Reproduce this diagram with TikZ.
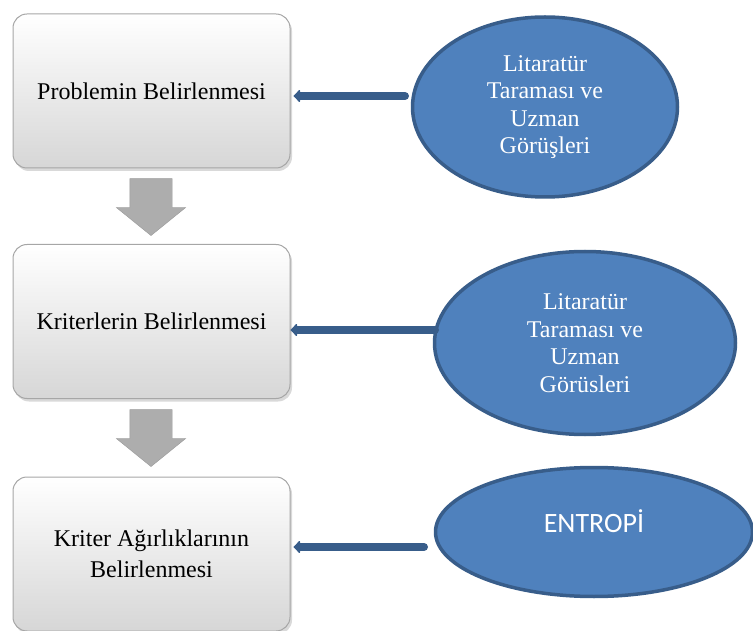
\documentclass[tikz,border=0pt]{standalone}
\usepackage{fontspec}
\setmainfont{Liberation Serif}
\newfontfamily\calibri{Carlito}
\usetikzlibrary{calc,shadows,shapes,arrows.meta}
\usetikzlibrary{positioning}

\definecolor{ellfill}{HTML}{4F81BD}
\definecolor{ellline}{HTML}{385D8A}

\begin{document}
\begin{tikzpicture}[x=1pt,y=-1pt]
    \tikzstyle{etape}=[rectangle,rounded corners=14pt,minimum width=277pt,minimum height=154pt,
        top color=white,bottom color=black!16,draw=black!35,line width=1pt,align=center,
        font=\fontsize{24}{31}\selectfont,
        drop shadow={opacity=0.3,shadow xshift=2pt,shadow yshift=-3pt}]
    \tikzstyle{kaynak}=[ellipse,fill=ellfill,draw=ellline,line width=3.5pt,text=white,align=center,
        font=\fontsize{24}{27.5}\selectfont]
    \tikzstyle{asagi}=[single arrow,rotate=-90,fill=black!32,draw=black!40,inner xsep=0pt,inner ysep=21pt,
        minimum height=57pt,single arrow head extend=13.5pt,single arrow tip angle=102]
    \tikzstyle{bag}=[line width=8pt,draw=ellline,line cap=round,-{Latex[length=7pt,width=16pt,round]}]

\useasboundingbox (0,0) rectangle (753,631);

% Adimlar
\node[etape] (B-1) at (151.5,91) {Problemin Belirlenmesi};
\node[etape] (B-2) at (151.5,321.5) {Kriterlerin Belirlenmesi};
\node[etape] (B-3) at (151.5,554) {Kriter Ağırlıklarının\\Belirlenmesi};

% Gri oklar
\node[asagi] (D-1) at (151,198.5) {};
\node[asagi] (D-2) at (151,429.5) {};

% Kaynaklar
\node[kaynak,minimum width=265pt,minimum height=180pt] (E-1) at (545,107)
    {Litaratür\\Taraması ve\\Uzman\\Görüşleri};
\node[kaynak,minimum width=301pt,minimum height=183pt] (E-2) at (585,343)
    {Litaratür\\Taraması ve\\Uzman\\Görüsleri};
\node[kaynak,minimum width=317pt,minimum height=129pt,font=\calibri\fontsize{28}{30}\selectfont] (E-3) at (594,532)
    {\raisebox{22pt}{ENTROPİ}};

% Baglantilar
\coordinate (K-1) at (405,96);
\coordinate (K-2) at (435,330);
\coordinate (K-3) at (424,547);
 \draw[bag] (K-1) -- ([xshift=3pt]B-1.east |- K-1);
 \draw[bag] (K-2) -- (B-2.east |- K-2);
 \draw[bag] (K-3) -- ([xshift=3pt]B-3.east |- K-3);

\end{tikzpicture}
\end{document}
